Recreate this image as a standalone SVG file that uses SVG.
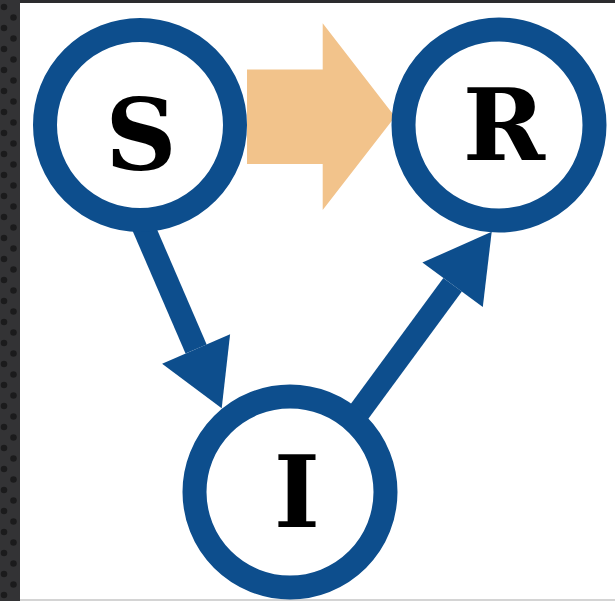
<svg xmlns="http://www.w3.org/2000/svg" width="615" height="601" viewBox="0 0 615 601">
  <style>
    .ring { fill: #ffffff; stroke: #0d4e8d; stroke-width: 24; }
    .shaft { stroke: #0d4e8d; stroke-width: 23; fill: none; }
    .head { fill: #0d4e8d; }
    .big { fill: #f2c38b; }
    .lbl { font-family: "DejaVu Serif", "Liberation Serif", serif; font-weight: bold; font-size: 99px; fill: #000000; text-anchor: middle; }
  </style>
  <defs>
    <pattern id="dots" x="0" y="0" width="20" height="21" patternUnits="userSpaceOnUse">
      <rect width="20" height="21" fill="#333335"/>
      <circle cx="4" cy="7" r="3.3" fill="#1b1b1c"/>
      <circle cx="13.5" cy="17.5" r="3.3" fill="#1b1b1c"/>
    </pattern>
  </defs>
  <rect x="0" y="0" width="615" height="601" fill="#2c2c2e"/>
  <rect x="0" y="0" width="20" height="601" fill="url(#dots)"/>
  <rect x="20" y="3" width="595" height="596" fill="#ffffff"/>
  <rect x="20" y="599" width="595" height="2" fill="#d4d4d4"/>

  <g id="connectors">
    <polygon class="big" points="247,69.5 322.7,69.5 322.7,23.3 395,116.7 322.7,210 322.7,164 247,164"/>
    <line class="shaft" x1="131.8" y1="200" x2="196.1" y2="349"/>
    <polygon class="head" points="221.7,408.3 230.1,334.3 162.1,363.7"/>
    <line class="shaft" x1="338.5" y1="440" x2="452.6" y2="284.8"/>
    <polygon class="head" points="491.7,231.7 482.8,307 422.4,262.6"/>
  </g>

  <g id="node-S">
    <circle class="ring" cx="140" cy="125" r="95"/>
    <text class="lbl" x="141" y="170">S</text>
  </g>
  <g id="node-R">
    <circle class="ring" cx="499" cy="125" r="95.5"/>
    <text class="lbl" x="504" y="160">R</text>
  </g>
  <g id="node-I">
    <circle class="ring" cx="290" cy="492" r="95.5"/>
    <text class="lbl" x="297" y="527">I</text>
  </g>
</svg>
